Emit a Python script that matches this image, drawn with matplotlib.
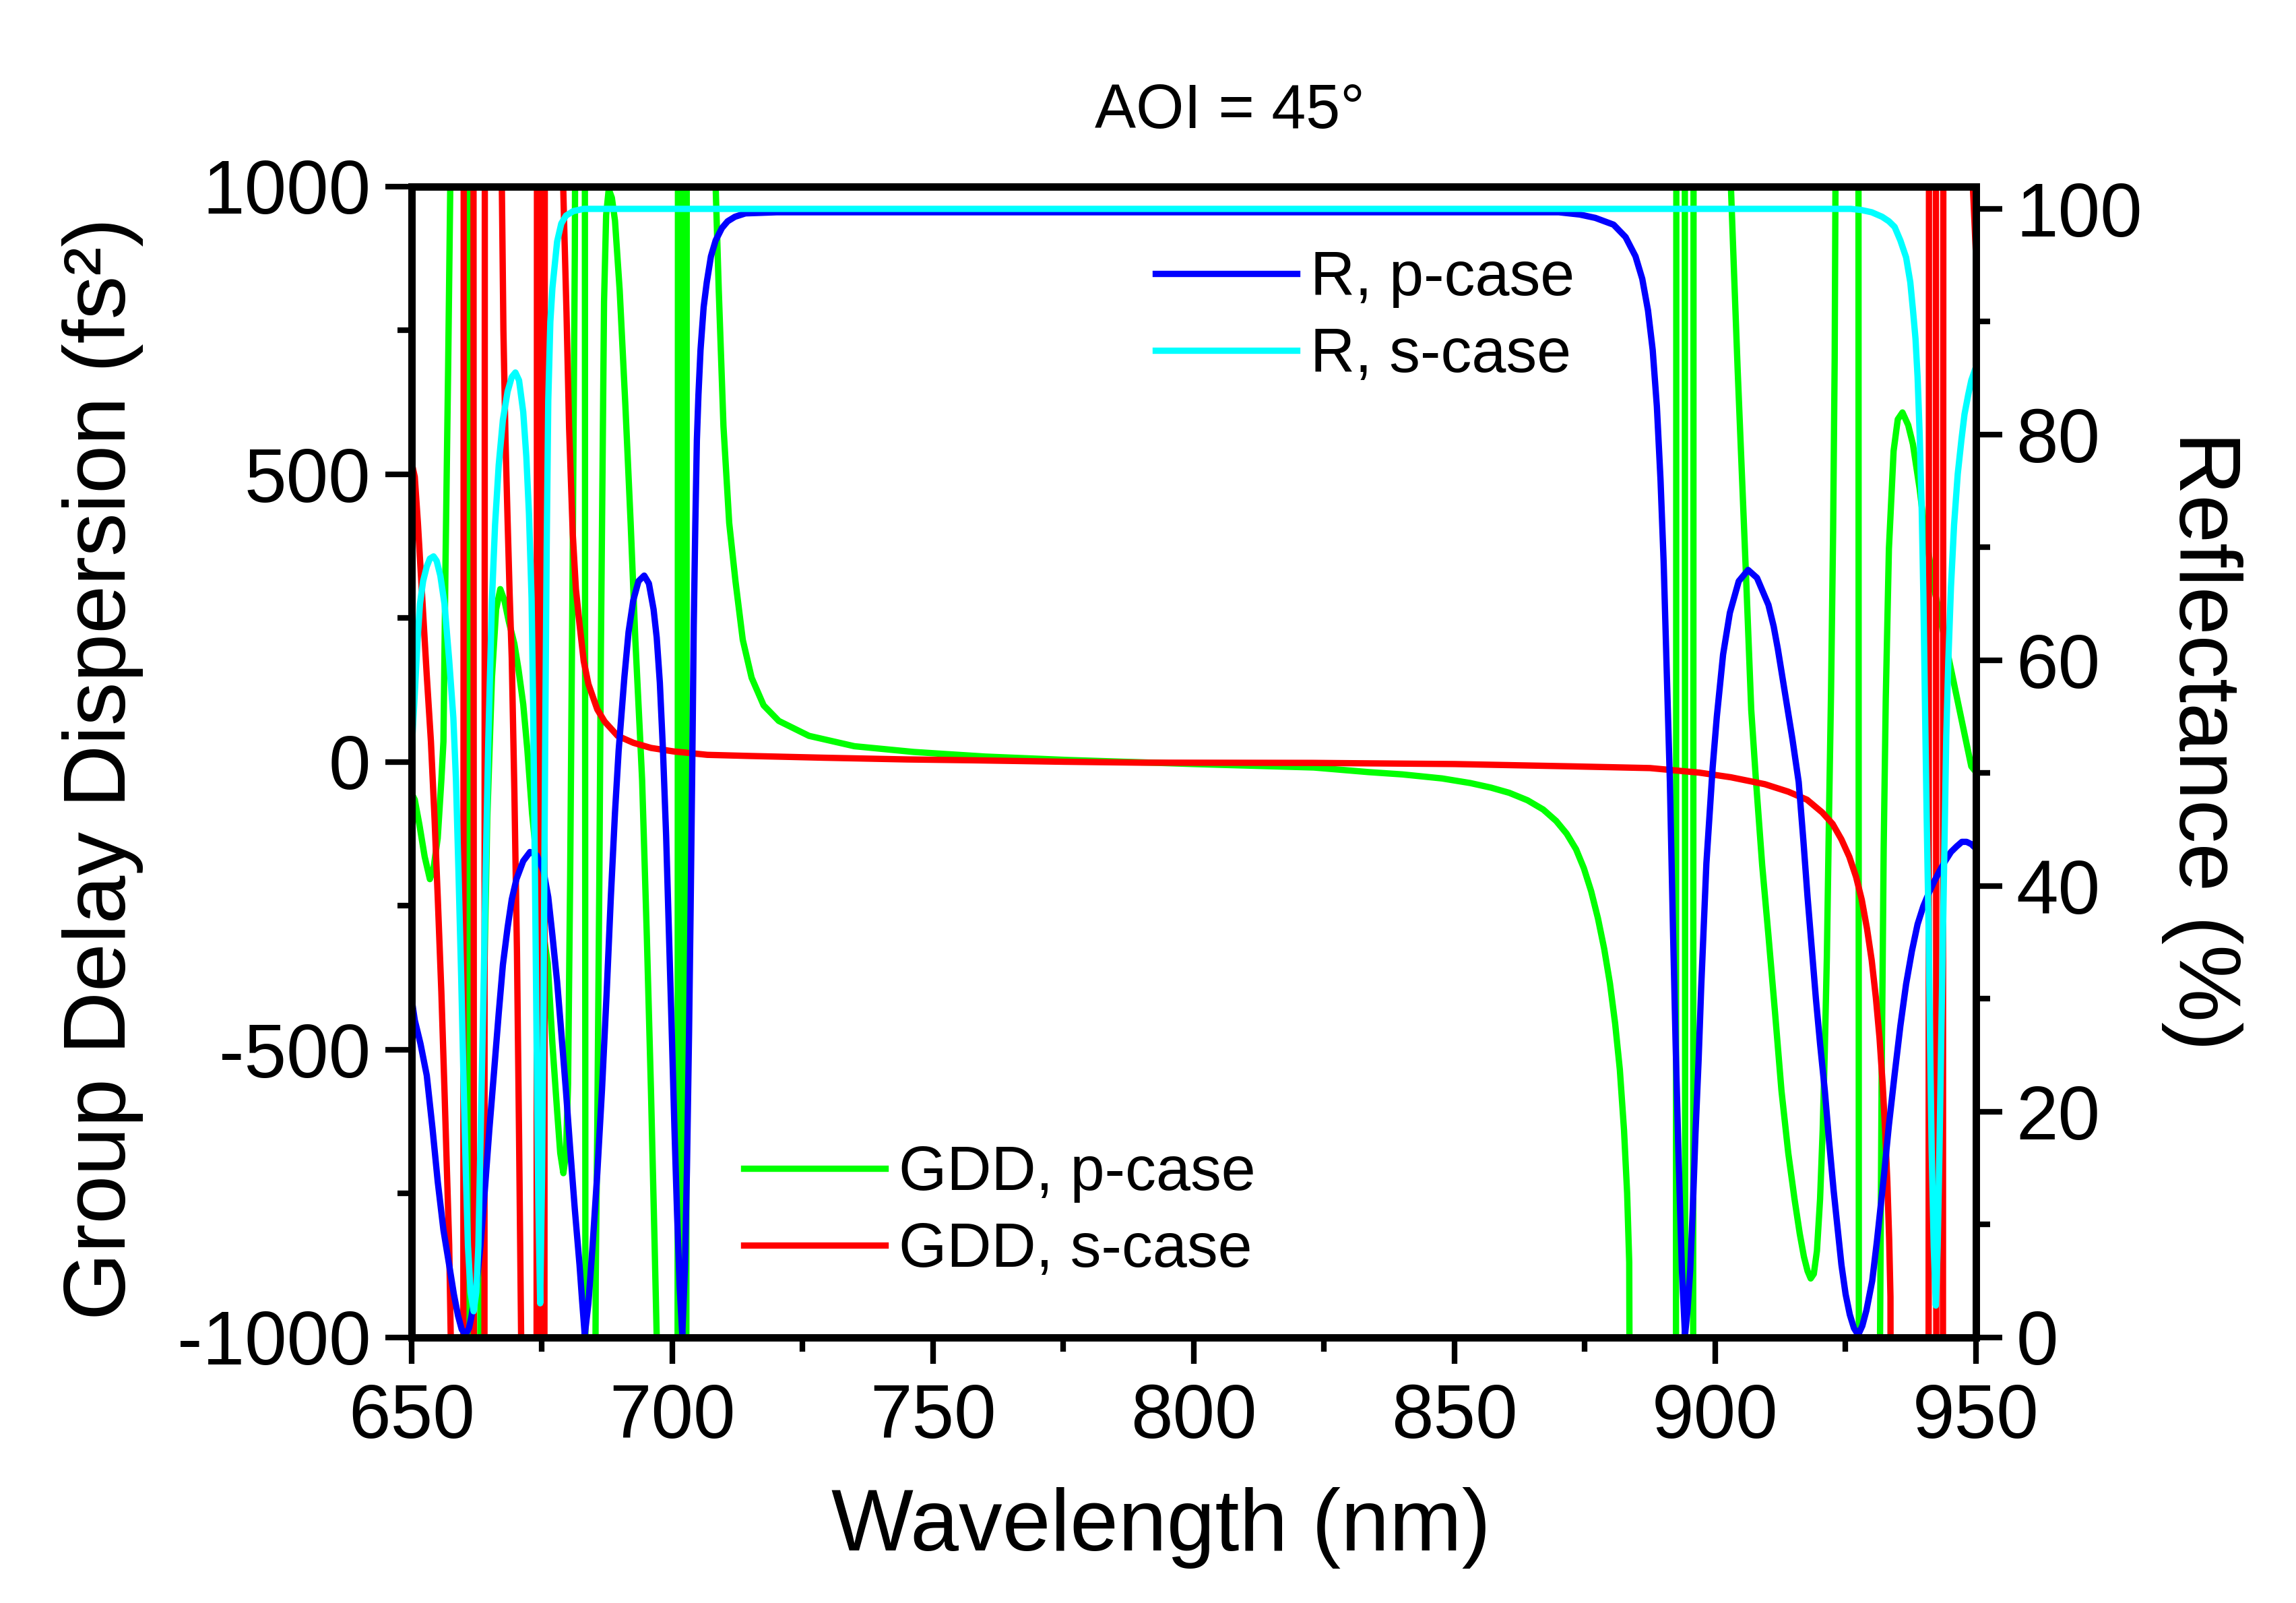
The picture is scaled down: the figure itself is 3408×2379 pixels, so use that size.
import matplotlib
matplotlib.use('Agg')
import matplotlib.pyplot as plt
from matplotlib.ticker import MultipleLocator

plt.rcParams['font.family'] = ['Liberation Sans', 'DejaVu Sans']
plt.rcParams['axes.unicode_minus'] = False

# ---------------- data ----------------
# GDD values beyond +-1000 (+-1500) stand for off-scale excursions (poles)
wl_gdd_p = [650.0, 650.6, 651.5, 652.5, 653.5, 654.2, 655.0, 655.7, 656.1, 656.5, 657.0, 657.4, 657.6,
            660.75, 660.85, 663.0, 663.2, 663.8, 664.5, 665.4, 666.2, 667.0, 667.8, 668.6, 669.7, 670.5,
            671.4, 672.2, 673.1, 674.2, 675.3, 676.1, 677.0, 677.9, 678.5, 679.1, 679.6, 680.0, 680.4,
            680.9, 681.3, 681.5, 683.2, 683.35, 685.1, 685.3, 685.6, 686.0, 686.3, 686.6, 686.9, 687.3,
            687.8, 688.4, 689.0, 689.9, 691.0, 692.0, 692.9, 693.8, 694.2, 695.1, 695.9, 696.6, 697.0,
            697.2, 700.99, 701.09, 701.41, 701.51, 701.83, 701.93, 702.25, 702.35, 702.67, 702.77,
            708.0, 708.3, 708.9, 709.8, 710.9, 712.1, 713.5, 715.2, 717.5, 720.4, 726.2, 734.9, 746.3,
            760.0, 776.0, 790.0, 800.0, 823.0, 833.5, 840.0, 847.6, 853.0, 857.0, 860.5, 864.0, 867.0,
            869.5, 871.5, 873.3, 874.8, 876.2, 877.5, 878.7, 879.8, 880.8, 881.7, 882.5, 883.1, 883.5,
            883.7, 892.45, 892.55, 894.15, 894.25, 895.75, 895.85,
            902.6, 903.0, 903.6, 904.3, 905.1, 906.0, 906.9, 907.8, 909.0, 910.2, 911.5, 912.7, 914.0,
            915.2, 916.2, 917.0, 917.7, 918.3, 918.9, 919.5, 920.1, 920.6, 921.0, 921.4, 921.8, 922.2,
            922.6, 922.9, 923.3, 927.45, 927.55, 931.5, 931.6, 931.9, 932.3, 932.7, 933.3, 934.2,
            935.0, 935.9, 937.0, 937.9, 939.2, 940.0, 942.0, 943.5, 945.2, 947.3, 949.1, 950.0]
gdd_p = [-55, -66, -110, -165, -204, -185, -133, -32, 35, 347, 684, 994, 1500,
         1500, -1500, -1500, -908, -437, -100, 146, 265, 300, 280, 245, 205, 160,
         100, 20, -90, -190, -300, -350, -490, -607, -680, -715, -680, -560, -200,
         370, 891, 1500, 1500, -1500, -1500, -900, -640, -200, 200, 500, 800, 950,
         995, 980, 940, 819, 617, 415, 212, 45, -32, -302, -572, -840, -1000,
         -1500, -1500, 1500, 1500, -1500, -1500, 1500, 1500, -1500, -1500, 1500,
         1500, 1000, 819, 583, 415, 314, 212, 146, 98, 71, 45, 27, 17,
         9, 3, -1, -4, -10, -18, -22, -29, -37, -45, -54, -67, -83,
         -103, -125, -152, -185, -225, -272, -325, -385, -455, -535, -640, -750, -870,
         -1500, -1500, 1500, 1500, -1500, -1500, 1500,
         1500, 1000, 850, 680, 500, 300, 90, -32, -180, -302, -440, -572, -680,
         -760, -820, -860, -885, -898, -890, -850, -760, -640, -504, -340, -100, 120,
         400, 700, 1500, 1500, -1500, -1500, -1000, -560, -150, 110, 370, 540,
         595, 607, 585, 552, 474, 414, 300, 235, 161, 70, -8, -18]

wl_gdd_s = [650.0, 650.6, 651.2, 652.0, 652.9, 653.7, 654.4, 655.0, 655.7, 656.3, 656.8, 657.2, 657.5,
            657.6, 659.9, 660.0, 661.85, 661.95, 663.95, 664.05, 667.1, 667.3, 667.6, 668.0, 668.4,
            668.8, 669.2, 669.7, 670.2, 670.6, 671.0, 671.1, 673.95, 674.05, 674.33, 674.43, 674.7,
            674.8, 675.08, 675.18, 675.45, 675.55, 678.6, 678.8, 679.2, 679.7, 680.2, 680.9, 681.5,
            682.2, 683.0, 683.9, 685.6, 687.0, 689.5, 692.5, 695.9, 700.2, 706.7, 715.0, 729.0, 745.0,
            757.8, 775.0, 790.0, 822.9, 850.0, 872.4, 887.5, 897.0, 903.0, 909.5, 914.0, 917.6, 920.5,
            922.5, 924.2, 925.7, 927.0, 928.1, 929.1, 930.0, 930.8, 931.5, 932.1, 932.6, 933.0, 933.35,
            933.6, 933.7, 940.9, 941.0, 942.3, 942.4, 943.65, 943.75, 949.1, 949.4, 950.0]
gdd_s = [520, 495, 415, 290, 150, 35, -100, -234, -400, -571, -720, -840, -1000,
         -1500, -1500, 1500, 1500, -1500, -1500, 1500, 1500, 1000, 750, 560, 420,
         290, 180, -50, -330, -650, -1000, -1500, -1500, 1500, 1500, -1500, -1500,
         1500, 1500, -1500, -1500, 1500, 1500, 1100, 950, 780, 580, 396, 300,
         239, 175, 135, 91, 70, 45, 33, 24, 18, 12, 10, 7, 4,
         2.5, 0, -1.6, -2, -4, -8, -11, -19, -27, -39, -52, -66, -88,
         -108, -135, -165, -200, -240, -290, -345, -410, -480, -560, -645, -730, -830,
         -930, -1500, -1500, 1500, 1500, -1500, -1500, 1500, 1500, 1000, 880]

wl_r_p = [650.0, 650.6, 651.7, 652.9, 654.0, 655.0, 656.1, 657.2, 658.1, 658.9, 659.6, 660.3, 661.0,
          661.5, 662.4, 663.2, 664.0, 664.9, 665.8, 666.7, 667.5, 668.4, 669.2, 670.1, 671.4, 672.7,
          674.0, 675.3, 676.2, 677.0, 677.9, 678.7, 679.6, 680.4, 681.3, 682.2, 682.7, 683.2, 683.9,
          684.7, 685.6, 686.5, 687.4, 688.2, 689.0, 689.7, 690.8, 691.6, 692.5, 693.5, 694.6, 695.5,
          696.4, 697.0, 697.6, 698.2, 698.8, 699.3, 699.8, 700.4, 700.9, 701.4, 701.9, 702.4, 702.8,
          703.2, 703.5, 703.8, 704.1, 704.4, 704.7, 705.0, 705.4, 706.0, 706.6, 707.4, 708.3, 709.5,
          710.6, 712.0, 714.0, 720.0, 870.0, 874.0, 877.0, 880.5, 882.8, 884.7, 886.0, 887.1, 888.0,
          888.8, 889.5, 890.1, 890.7, 891.3, 891.9, 892.4, 892.9, 893.6, 894.2, 894.7, 895.2, 895.7,
          896.2, 896.8, 897.3, 898.3, 899.5, 900.3, 901.5, 902.8, 904.5, 906.3, 908.0, 909.2, 910.2,
          911.2, 912.0, 913.5, 914.8, 916.0, 916.9, 917.7, 918.5, 919.3, 920.1, 921.0, 921.8, 922.7,
          923.5, 924.2, 925.0, 925.8, 926.6, 927.4, 928.2, 929.0, 930.1, 931.0, 932.3, 933.3, 934.4,
          935.5, 936.6, 937.7, 938.8, 939.9, 940.9, 942.0, 943.0, 944.1, 945.2, 946.3, 947.3, 948.2,
          949.1, 950.0]
r_p = [30.0, 28.1, 26.0, 23.2, 18.5, 13.8, 9.5, 6.4, 3.8, 1.9, 0.7, 0.2, 0.8,
       1.9, 4.5, 8.1, 12.8, 18.4, 23.5, 28.7, 33.0, 36.3, 38.8, 40.6, 42.2, 43.0,
       42.7, 41.3, 39.0, 35.6, 31.5, 27.0, 21.8, 16.7, 11.3, 6.4, 3.2, 0.2, 3.0,
       8.1, 14.5, 21.9, 30.5, 39.0, 46.5, 52.0, 58.5, 62.5, 65.3, 67.0, 67.5, 66.8,
       64.5, 62.0, 58.0, 52.0, 44.5, 36.5, 28.5, 18.5, 11.0, 4.5, 0.2, 6.0, 15.0,
       27.0, 38.0, 50.0, 63.0, 72.0, 79.5, 83.5, 87.5, 91.3, 93.5, 95.8, 97.2, 98.3,
       98.9, 99.3, 99.6, 99.7, 99.7, 99.5, 99.2, 98.6, 97.5, 95.8, 93.8, 91.0, 87.5,
       82.5, 76.0, 68.7, 59.0, 49.2, 36.0, 26.0, 17.0, 6.0, 0.2, 2.5, 6.0, 11.5,
       18.0, 24.5, 31.0, 42.0, 50.5, 55.0, 60.5, 64.2, 67.0, 68.0, 67.3, 66.0, 64.9,
       63.0, 61.0, 56.7, 53.0, 49.2, 44.0, 39.0, 34.5, 30.0, 26.0, 21.9, 17.5, 13.0,
       9.5, 6.4, 3.8, 2.0, 0.8, 0.2, 1.0, 2.4, 5.0, 8.5, 14.1, 18.8, 23.3,
       27.6, 31.3, 34.2, 36.6, 38.2, 39.3, 40.4, 41.3, 42.2, 43.0, 43.5, 43.9, 43.9,
       43.7, 43.3]

wl_r_s = [650.0, 650.6, 651.1, 651.6, 652.2, 652.9, 653.5, 654.2, 654.8, 655.5, 656.3, 657.2, 658.0,
          658.5, 659.0, 659.5, 660.0, 660.4, 660.8, 661.3, 661.9, 662.4, 662.8, 663.4, 663.8, 664.1,
          664.7, 665.4, 666.0, 666.7, 667.5, 668.4, 669.2, 669.9, 670.6, 671.4, 672.0, 672.5, 673.0,
          673.3, 673.6, 674.0, 674.3, 674.65, 675.0, 675.3, 675.6, 675.9, 676.2, 676.6, 677.0, 677.9,
          678.7, 679.6, 681.0, 683.0, 926.0, 928.0, 930.0, 932.0, 933.3, 934.4, 935.5, 936.6, 937.4,
          937.9, 938.4, 938.8, 939.2, 939.6, 939.9, 940.2, 940.55, 940.9, 941.2, 941.5, 941.9, 942.3,
          942.65, 943.0, 943.35, 943.7, 944.3, 944.7, 945.2, 945.8, 946.5, 947.2, 947.8, 948.5, 949.1,
          950.0]
r_s = [52.0, 57.0, 61.5, 65.0, 67.0, 68.3, 69.0, 69.2, 68.8, 67.5, 65.0, 60.0, 54.9,
       49.4, 41.0, 32.0, 21.8, 14.5, 8.1, 4.0, 2.3, 4.0, 8.1, 21.8, 31.0, 39.0,
       52.8, 65.3, 72.0, 77.3, 81.3, 83.8, 85.1, 85.5, 84.8, 82.0, 78.0, 73.0, 65.5,
       56.0, 43.0, 25.0, 12.0, 3.0, 14.0, 30.0, 52.0, 70.0, 83.0, 90.0, 93.0, 97.1,
       98.7, 99.4, 99.8, 100.0, 100.0, 99.9, 99.7, 99.3, 98.9, 98.4, 97.2, 95.7, 93.5,
       91.1, 88.5, 85.1, 80.0, 73.2, 66.0, 56.6, 46.0, 36.6, 26.0, 16.7, 8.0, 2.8,
       8.0, 16.7, 27.0, 36.6, 53.3, 60.0, 66.5, 72.0, 76.5, 79.5, 81.8, 83.5, 84.8,
       86.0]

labels_top = ['R, p-case', 'R, s-case']
labels_bottom = ['GDD, p-case', 'GDD, s-case']

# ---------------- figure ----------------
W, H, DPI = 3408, 2379, 300
fig = plt.figure(figsize=(W / DPI, H / DPI), dpi=DPI)
L, R, T, B = 611, 2933, 276.5, 1984.5
ax = fig.add_axes([L / W, 1 - B / H, (R - L) / W, (B - T) / H])
ax2 = ax.twinx()

lw = 2.25
l_green, = ax.plot(wl_gdd_p, gdd_p, color='#00FF00', lw=lw)
l_red, = ax.plot(wl_gdd_s, gdd_s, color='#FF0000', lw=lw)
l_blue, = ax2.plot(wl_r_p, r_p, color='#0000FF', lw=lw)
l_cyan, = ax2.plot(wl_r_s, r_s, color='#00FFFF', lw=lw)

ax.set_xlim(650, 950)
ax.set_ylim(-1000, 1000)
ax2.set_ylim(0, 102)

ax.xaxis.set_major_locator(MultipleLocator(50))
ax.xaxis.set_minor_locator(MultipleLocator(25))
ax.yaxis.set_major_locator(MultipleLocator(500))
ax.yaxis.set_minor_locator(MultipleLocator(250))
ax2.yaxis.set_major_locator(MultipleLocator(20))
ax2.yaxis.set_minor_locator(MultipleLocator(10))

for a in (ax, ax2):
    for s in a.spines.values():
        s.set_linewidth(2.6)

ax.tick_params(which='major', direction='out', length=9.3, width=2.0, labelsize=27,
               top=False, right=False)
ax.tick_params(which='minor', direction='out', length=5.0, width=2.0, top=False, right=False)
ax.tick_params(axis='y', pad=5.2)
ax.tick_params(axis='x', pad=6.8)
ax2.tick_params(which='major', direction='out', length=9.3, width=2.0, labelsize=27, pad=4.9)
ax2.tick_params(which='minor', direction='out', length=5.0, width=2.0)

ax.set_xlabel('Wavelength (nm)', fontsize=31, va='baseline')
ax.xaxis.set_label_coords((1723 - L) / (R - L), (B - 2301) / (B - T))
ax.set_ylabel('Group Delay Dispersion (fs\u00b2)', fontsize=31, va='baseline',
              rotation=90, rotation_mode='anchor')
ax.yaxis.set_label_coords((186 - L) / (R - L), (B - 1141) / (B - T))
ax2.set_ylabel('Reflectance (%)', fontsize=31, va='baseline', rotation=270,
               rotation_mode='anchor')
ax2.yaxis.set_label_coords((3235 - L) / (R - L), (B - 1100) / (B - T))

ax.set_title('AOI = 45\u00b0', fontsize=22, x=(1825 - L) / (R - L),
             y=(B - 190) / (B - T), va='baseline', pad=0)

leg1 = ax2.legend([l_blue, l_cyan], labels_top, loc='center left',
                  bbox_to_anchor=(1715 / W, 1 - 471 / H), bbox_transform=fig.transFigure,
                  frameon=False, fontsize=22, handlelength=2.29, handletextpad=0.22,
                  labelspacing=0.3, borderpad=0, borderaxespad=0)
ax2.add_artist(leg1)
leg2 = ax2.legend([l_green, l_red], labels_bottom, loc='center left',
                  bbox_to_anchor=(1104 / W, 1 - 1799 / H), bbox_transform=fig.transFigure,
                  frameon=False, fontsize=22, handlelength=2.29, handletextpad=0.22,
                  labelspacing=0.3, borderpad=0, borderaxespad=0)
for lg in (leg1, leg2):
    for ln in lg.get_lines():
        ln.set_linewidth(lw)

fig.savefig('out.png', dpi=DPI)
